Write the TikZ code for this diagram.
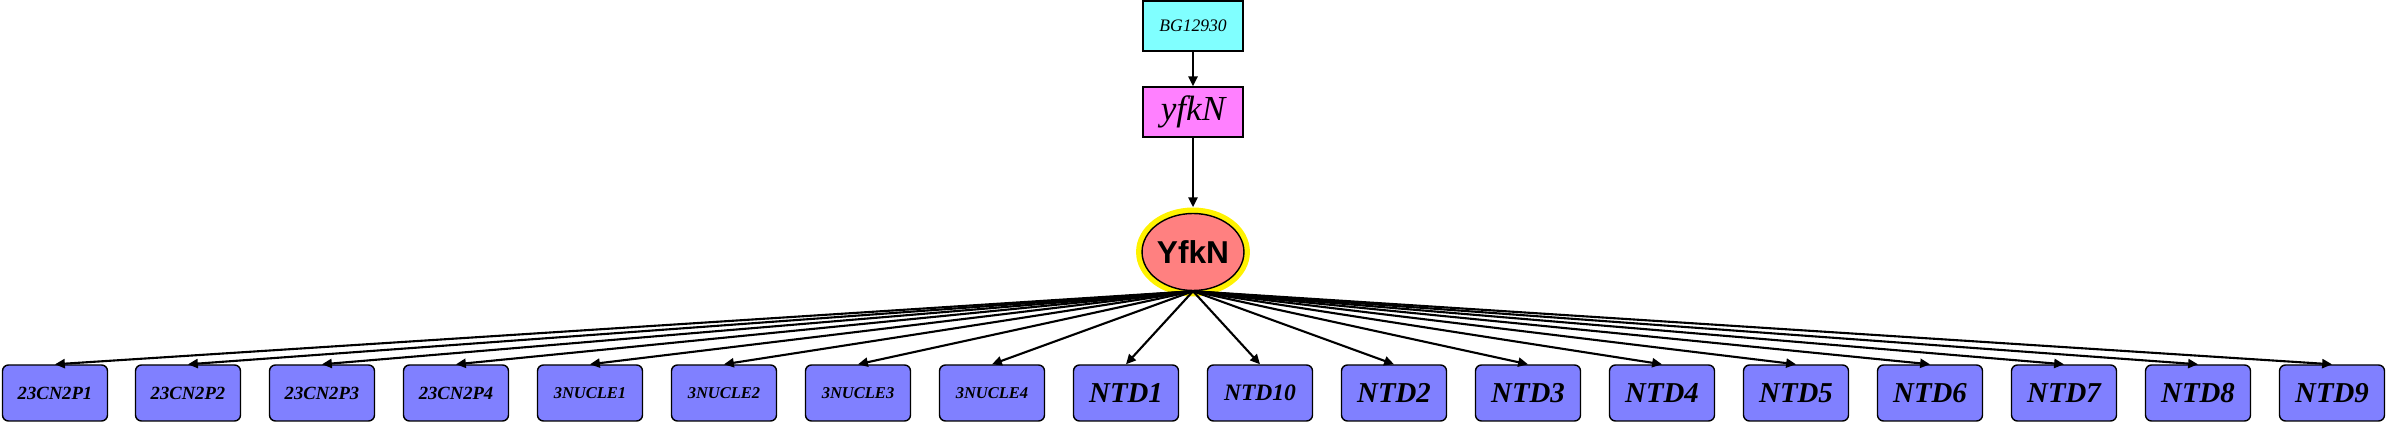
\documentclass[tikz,border=0pt]{standalone}
\usepackage{fontspec}
\setmainfont{Liberation Serif}
\newfontfamily\protfont{Liberation Sans}
\usetikzlibrary{arrows.meta, shapes.geometric}
\definecolor{genecyan}{RGB}{128,255,255}
\definecolor{genepink}{RGB}{255,128,255}
\definecolor{protred}{RGB}{255,128,128}
\definecolor{siteblue}{RGB}{128,128,255}
\tikzset{
  genebox/.style={draw, line width=0.4pt, minimum width=1cm, minimum height=0.5cm, inner sep=0pt, font=\itshape},
  sitebox/.style={draw, line width=0.4pt, fill=siteblue, rounded corners=1.7pt, minimum width=1.05cm, minimum height=0.56cm, inner sep=0pt, font=\bfseries\itshape},
  link/.style={-{Triangle[length=2.8pt,width=2.6pt]}, line width=0.6pt},
}

\begin{document}
\begin{tikzpicture}
\useasboundingbox (0,0) rectangle (23.87,-4.22);

% gene and product
\node[genebox, fill=genecyan] (bg) at (11.93,-0.26) {\fontsize{5}{6}\selectfont BG12930};
\node[genebox, fill=genepink] (gene) at (11.93,-1.12) {\fontsize{10}{12}\selectfont yfkN};
\node[ellipse, draw, line width=0.4pt, fill=protred, preaction={draw=yellow, line width=3.4pt},
      minimum width=1.01cm, minimum height=0.77cm, inner sep=0pt] (prot) at (11.93,-2.52)
      {\protfont\bfseries\fontsize{9}{11}\selectfont YfkN};

% sites
\node[sitebox] (s1) at (0.55,-3.93) {\fontsize{5.3}{6}\selectfont 23CN2P1};
\node[sitebox] (s2) at (1.88,-3.93) {\fontsize{5.3}{6}\selectfont 23CN2P2};
\node[sitebox] (s3) at (3.22,-3.93) {\fontsize{5.3}{6}\selectfont 23CN2P3};
\node[sitebox] (s4) at (4.56,-3.93) {\fontsize{5.3}{6}\selectfont 23CN2P4};
\node[sitebox] (s5) at (5.90,-3.93) {\fontsize{4.7}{6}\selectfont 3NUCLE1};
\node[sitebox] (s6) at (7.24,-3.93) {\fontsize{4.7}{6}\selectfont 3NUCLE2};
\node[sitebox] (s7) at (8.58,-3.93) {\fontsize{4.7}{6}\selectfont 3NUCLE3};
\node[sitebox] (s8) at (9.92,-3.93) {\fontsize{4.7}{6}\selectfont 3NUCLE4};
\node[sitebox] (s9) at (11.26,-3.93) {\fontsize{8.2}{10}\selectfont NTD1};
\node[sitebox] (s10) at (12.60,-3.93) {\fontsize{6.7}{8}\selectfont NTD10};
\node[sitebox] (s11) at (13.94,-3.93) {\fontsize{8.2}{10}\selectfont NTD2};
\node[sitebox] (s12) at (15.28,-3.93) {\fontsize{8.2}{10}\selectfont NTD3};
\node[sitebox] (s13) at (16.62,-3.93) {\fontsize{8.2}{10}\selectfont NTD4};
\node[sitebox] (s14) at (17.96,-3.93) {\fontsize{8.2}{10}\selectfont NTD5};
\node[sitebox] (s15) at (19.30,-3.93) {\fontsize{8.2}{10}\selectfont NTD6};
\node[sitebox] (s16) at (20.64,-3.93) {\fontsize{8.2}{10}\selectfont NTD7};
\node[sitebox] (s17) at (21.98,-3.93) {\fontsize{8.2}{10}\selectfont NTD8};
\node[sitebox] (s18) at (23.32,-3.93) {\fontsize{8.2}{10}\selectfont NTD9};

% arrows
\draw[link] (bg) -- (gene);
\draw[link, shorten >=1.6pt] (gene.south) -- (prot.north);
\draw[link] (prot.south) -- (s1.north);
\draw[link] (prot.south) -- (s2.north);
\draw[link] (prot.south) -- (s3.north);
\draw[link] (prot.south) -- (s4.north);
\draw[link] (prot.south) -- (s5.north);
\draw[link] (prot.south) -- (s6.north);
\draw[link] (prot.south) -- (s7.north);
\draw[link] (prot.south) -- (s8.north);
\draw[link] (prot.south) -- (s9.north);
\draw[link] (prot.south) -- (s10.north);
\draw[link] (prot.south) -- (s11.north);
\draw[link] (prot.south) -- (s12.north);
\draw[link] (prot.south) -- (s13.north);
\draw[link] (prot.south) -- (s14.north);
\draw[link] (prot.south) -- (s15.north);
\draw[link] (prot.south) -- (s16.north);
\draw[link] (prot.south) -- (s17.north);
\draw[link] (prot.south) -- (s18.north);
\end{tikzpicture}
\end{document}
